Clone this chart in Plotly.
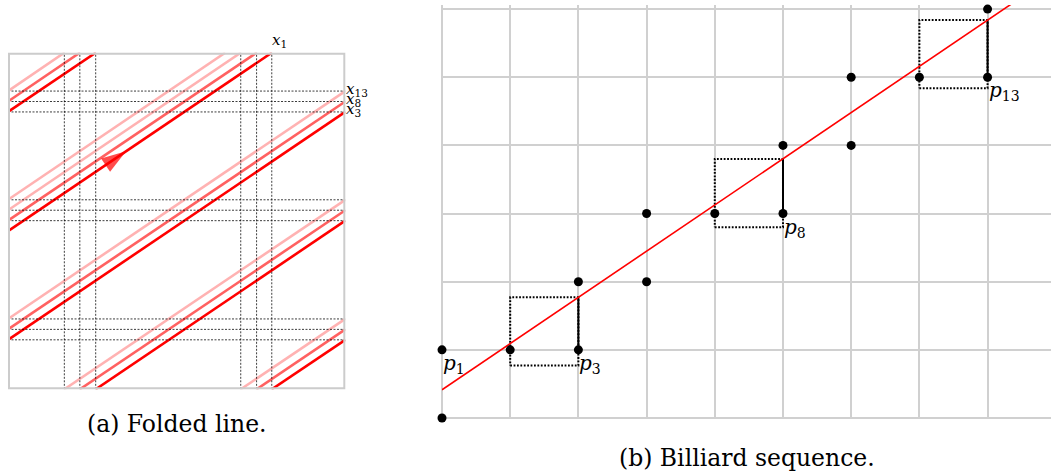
import plotly.graph_objects as go

SERIF = "DejaVu Serif"

# ---------------- Panel (a): folded line on the unit square ----------------
fold_start_v = 0.47                      # where the line enters on the left edge
cross_side = ["T", "R", "R", "T", "R", "T", "R", "R", "T", "R", "T", "R", "R", "T", "R", "T"]
cross_val = [0.782, 0.147, 0.824, 0.260, 0.501, 0.737, 0.178, 0.855, 0.213,
             0.532, 0.690, 0.209, 0.886, 0.167, 0.563, 0.644]
cross_lap = [0, 0, 0, 0, 0, 1, 1, 1, 1, 1, 2, 2, 2, 2, 2, 2]
lap_colors = ["rgb(255,0,0)", "rgba(255,0,0,0.62)", "rgba(255,0,0,0.30)"]

dash_v = [0.782, 0.260, 0.737, 0.213, 0.690, 0.167]
dash_h = [0.147, 0.824, 0.501, 0.178, 0.855, 0.532, 0.209, 0.886, 0.563]

top_label_text = ["x", "1"]
top_label_u = 0.782
right_label_names = [("x", "13"), ("x", "8"), ("x", "3")]
right_label_v = [0.886, 0.855, 0.824]

arrow_tip_u = 0.350
arrow_tail_u = 0.30
fold_slope = 0.678

# ---------------- Panel (b): billiard sequence ----------------
dot_x = [0, 0, 1, 2, 2, 3, 3, 4, 5, 5, 6, 6, 7, 8, 8, 9]
dot_y = [0, 1, 1, 1, 2, 2, 3, 3, 3, 4, 4, 5, 5, 5, 6, 6]
red_line_x = [0, 9]
red_line_y = [0.414, 6.516]
rect_x0 = [1, 4, 7]
rect_x1 = [2, 5, 8]
rect_y0 = [0.77, 2.80, 4.84]
rect_y1 = [1.77, 3.80, 5.84]
step_x = [2, 5, 8]
step_y0 = [1, 3, 5]
step_y1 = [1.77, 3.80, 5.84]
p_label_x = [0, 2, 5, 8]
p_label_y = [1, 1, 3, 5]
p_label_idx = ["1", "3", "8", "13"]

fig = go.Figure()

# ---- panel (a) red folded line, one trace per lap ----
seg_x = {0: [], 1: [], 2: []}
seg_y = {0: [], 1: [], 2: []}
entry = (0.0, fold_start_v)
for side, val, lap in zip(cross_side, cross_val, cross_lap):
    exitp = (val, 1.0) if side == "T" else (1.0, val)
    seg_x[lap] += [entry[0], exitp[0], None]
    seg_y[lap] += [entry[1], exitp[1], None]
    entry = (val, 0.0) if side == "T" else (0.0, val)

for lap in (2, 1, 0):
    fig.add_trace(go.Scatter(x=seg_x[lap], y=seg_y[lap], mode="lines",
                             line=dict(color=lap_colors[lap], width=2.6),
                             xaxis="x2", yaxis="y2", hoverinfo="skip"))

# arrow head on the first (dark) segment
fig.add_trace(go.Scatter(
    x=[arrow_tail_u, arrow_tip_u],
    y=[fold_start_v + fold_slope * arrow_tail_u, fold_start_v + fold_slope * arrow_tip_u],
    mode="markers", xaxis="x2", yaxis="y2", hoverinfo="skip",
    marker=dict(symbol="arrow", size=[0, 26], color="red", angleref="previous",
                line=dict(width=0))))

# dashed guide lines
dx, dy = [], []
for u in dash_v:
    dx += [u, u, None]
    dy += [0, 1, None]
for v in dash_h:
    dx += [0, 1, None]
    dy += [v, v, None]
fig.add_trace(go.Scatter(x=dx, y=dy, mode="lines",
                         line=dict(color="rgba(0,0,0,0.85)", width=0.9, dash="2px,1.5px"),
                         xaxis="x2", yaxis="y2", hoverinfo="skip"))

# ---- panel (b) ----
rx, ry = [], []
for a, b, c, d in zip(rect_x0, rect_x1, rect_y0, rect_y1):
    rx += [a, b, b, a, a, None]
    ry += [c, c, d, d, c, None]
fig.add_trace(go.Scatter(x=rx, y=ry, mode="lines",
                         line=dict(color="black", width=2, dash="1.8px,1.6px"),
                         hoverinfo="skip"))
sx, sy = [], []
for a, b, c in zip(step_x, step_y0, step_y1):
    sx += [a, a, None]
    sy += [b, c, None]
fig.add_trace(go.Scatter(x=sx, y=sy, mode="lines",
                         line=dict(color="black", width=2), hoverinfo="skip"))
fig.add_trace(go.Scatter(x=red_line_x, y=red_line_y, mode="lines",
                         line=dict(color="red", width=1.6), hoverinfo="skip"))
fig.add_trace(go.Scatter(x=dot_x, y=dot_y, mode="markers",
                         marker=dict(color="black", size=9), cliponaxis=False,
                         hoverinfo="skip"))

annotations = []
for x, y, idx in zip(p_label_x, p_label_y, p_label_idx):
    annotations.append(dict(x=x, y=y, xref="x", yref="y", showarrow=False,
                            text=f"<i>p</i><sub>{idx}</sub>", xanchor="left", yanchor="top",
                            xshift=-1, yshift=1,
                            font=dict(family=SERIF, size=20, color="black")))

annotations.append(dict(x=top_label_u, y=1, xref="x2", yref="y2", showarrow=False,
                        text=f"<i>{top_label_text[0]}</i><sub>{top_label_text[1]}</sub>",
                        xanchor="left", yanchor="bottom", xshift=-2, yshift=1,
                        font=dict(family=SERIF, size=15, color="black")))
for (nm, idx), v in zip(right_label_names, right_label_v):
    annotations.append(dict(x=1, y=v, xref="x2", yref="y2", showarrow=False,
                            text=f"<i>{nm}</i><sub>{idx}</sub>",
                            xanchor="left", yanchor="middle", xshift=-1, yshift=2,
                            font=dict(family=SERIF, size=15, color="black")))

annotations.append(dict(x=177 / 1051, y=1 - 424 / 475, xref="paper", yref="paper",
                        showarrow=False, text="(a) Folded line.",
                        xanchor="center", yanchor="middle",
                        font=dict(family=SERIF, size=23.5, color="black")))
annotations.append(dict(x=747 / 1051, y=1 - 458 / 475, xref="paper", yref="paper",
                        showarrow=False, text="(b) Billiard sequence.",
                        xanchor="center", yanchor="middle",
                        font=dict(family=SERIF, size=23.5, color="black")))

shapes = [dict(type="rect", xref="x2", yref="y2", x0=0, y0=0, x1=1, y1=1,
               line=dict(color="#cccccc", width=4), layer="above")]

grid = "#d0d0d0"
fig.update_layout(
    width=1051, height=475, margin=dict(l=0, r=0, t=0, b=0),
    paper_bgcolor="white", plot_bgcolor="white", showlegend=False,
    xaxis=dict(domain=[442 / 1051, 1], range=[0, 8.93], dtick=1, tick0=0,
               showgrid=True, gridcolor=grid, gridwidth=2, zeroline=True,
               zerolinecolor=grid, zerolinewidth=2, showticklabels=False,
               ticks="", showline=False, fixedrange=True),
    yaxis=dict(domain=[1 - 418 / 475, 1 - 5 / 475], range=[0, 6.06], dtick=1, tick0=0,
               showgrid=True, gridcolor=grid, gridwidth=2, zeroline=True,
               zerolinecolor=grid, zerolinewidth=2, showticklabels=False,
               ticks="", showline=False, fixedrange=True),
    xaxis2=dict(domain=[8 / 1051, 345.3 / 1051], range=[0, 1], visible=False,
                anchor="y2", fixedrange=True),
    yaxis2=dict(domain=[1 - 389.3 / 475, 1 - 52.7 / 475], range=[0, 1], visible=False,
                anchor="x2", fixedrange=True),
    annotations=annotations, shapes=shapes,
)

fig.write_html("out.html", config={"displayModeBar": False},
               post_script="document.body.style.margin='0';document.body.style.overflow='hidden';")
